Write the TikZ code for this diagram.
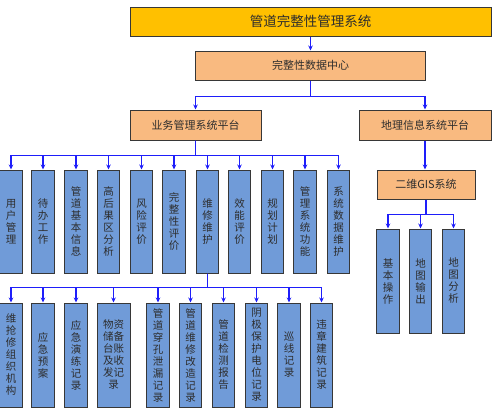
\documentclass[tikz,border=0pt]{standalone}
\usepackage{fontspec}
\newfontfamily\cjk{Noto Sans CJK SC}
\usetikzlibrary{arrows.meta}
\definecolor{goldfill}{RGB}{255,192,0}
\definecolor{peachfill}{RGB}{249,186,128}
\definecolor{bluefill}{RGB}{112,155,216}
\definecolor{connblue}{RGB}{30,30,250}
\definecolor{bordgray}{RGB}{55,55,55}
\definecolor{txtgray}{RGB}{45,45,45}
\begin{document}
\begin{tikzpicture}[x=1pt,y=-1pt,
 base/.style={draw=bordgray,line width=1pt,inner sep=0pt,text=txtgray,align=center},
 titlebox/.style={base,fill=goldfill,minimum width=361pt,minimum height=29pt,font=\cjk\fontsize{13.5}{15}\selectfont},
 peachbox/.style={base,fill=peachfill,minimum height=29pt,font=\cjk\fontsize{11}{13}\selectfont},
 vbox/.style={base,fill=bluefill,minimum width=22.5pt,font=\cjk\fontsize{10.5}{12}\selectfont},
 tallA/.style={vbox,minimum height=103pt},
 tallB/.style={vbox,minimum height=104pt},
 link/.style={draw=connblue,line width=1.1pt,-{Stealth[length=5pt,width=4.5pt]}}
]
\useasboundingbox (0,0) rectangle (494,413);
% top levels
\node[titlebox] (top) at (310.5,21.5) {管道完整性管理系统};
\node[peachbox,minimum width=230pt] (dc) at (310.5,65.5) {完整性数据中心};
\node[peachbox,minimum width=131pt,minimum height=30pt] (yw) at (195.5,125) {业务管理系统平台};
\node[peachbox,minimum width=132pt,minimum height=30pt] (dl) at (425,125) {地理信息系统平台};
\node[peachbox,minimum width=98pt] (gis) at (426,184.5) {二维GIS系统};
% second row (business)
\node[tallA] (a1) at (11,221.5) {用\\户\\管\\理};
\node[tallA] (a2) at (43,221.5) {待\\办\\工\\作};
\node[tallA] (a3) at (76,221.5) {管\\道\\基\\本\\信\\息};
\node[tallA] (a4) at (108.5,221.5) {高\\后\\果\\区\\分\\析};
\node[tallA] (a5) at (141.5,221.5) {风\\险\\评\\价};
\node[tallA] (a6) at (174,221.5) {完\\整\\性\\评\\价};
\node[tallA] (a7) at (207.5,221.5) {维\\修\\维\\护};
\node[tallA] (a8) at (239.5,221.5) {效\\能\\评\\价};
\node[tallA] (a9) at (272.5,221.5) {规\\划\\计\\划};
\node[tallA] (a10) at (305,221.5) {管\\理\\系\\统\\功\\能};
\node[tallA] (a11) at (338.5,221.5) {系\\统\\数\\据\\维\\护};
% third row (maintenance)
\node[tallB] (b1) at (11,355) {维\\抢\\修\\组\\织\\机\\构};
\node[tallB] (b2) at (43,355) {应\\急\\预\\案};
\node[tallB] (b3) at (76,355) {应\\急\\演\\练\\记\\录};
\node[tallB,minimum width=33pt] (b4) at (113.5,355) {物资\\储备\\台账\\及收\\发记\\录};
\node[tallB] (b5) at (158,355) {管\\道\\穿\\孔\\泄\\漏\\记\\录};
\node[tallB] (b6) at (190.5,355) {管\\道\\维\\修\\改\\造\\记\\录};
\node[tallB] (b7) at (223.5,355) {管\\道\\检\\测\\报\\告};
\node[tallB] (b8) at (256.5,355) {阴\\极\\保\\护\\电\\位\\记\\录};
\node[tallB] (b9) at (289,355) {巡\\线\\记\\录};
\node[tallB] (b10) at (321.5,355) {违\\章\\建\\筑\\记\\录};
% GIS row
\node[tallB] (g1) at (388,281) {基\\本\\操\\作};
\node[tallB] (g2) at (420.5,281) {地\\图\\输\\出};
\node[tallB] (g3) at (453.5,281) {地\\图\\分\\析};
% connectors
\draw[link] (top) -- (dc);
\draw[link] (dc.south) -- ++(0,16) -| (yw.north);
\draw[link] (dc.south) -- ++(0,16) -| (dl.north);
\foreach \c in {a1,a2,a3,a4,a5,a6,a7,a8,a9,a10,a11}
  \draw[link] (yw.south) -- ++(0,15) -| (\c.north);
\foreach \c in {b1,b2,b3,b4,b5,b6,b7,b8,b9,b10}
  \draw[link] (a7.south) -- ++(0,14) -| (\c.north);
\draw[link] (dl.south) -- (gis.north -| dl.south);
\foreach \c in {g1,g2,g3}
  \draw[link] (gis.south) -- ++(0,15) -| (\c.north);
\end{tikzpicture}
\end{document}
